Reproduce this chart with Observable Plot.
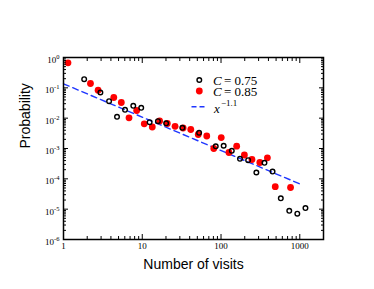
<!DOCTYPE html>
<html>
<head>
<meta charset="utf-8">
<script src="https://cdn.jsdelivr.net/npm/d3@7"></script>
<script src="https://cdn.jsdelivr.net/npm/@observablehq/plot@0.6"></script>
<style>
  html, body { margin: 0; padding: 0; background: #fff; }
</style>
</head>
<body>
<div id="chart"></div>
<script>
// C = 0.75 (open black circles)
const visitsC75 = [1.83, 2.94, 3.79, 4.78, 6.04, 7.69, 9.70, 12.4, 15.8, 20.1, 32.3, 52.7, 85.7, 108, 137, 174, 221, 281, 356, 451, 574, 735, 930, 1180];
const probC75   = [0.193, 0.0702, 0.0362, 0.0111, 0.0189, 0.0256, 0.022, 0.00736, 0.00794, 0.00677, 0.00481, 0.00329, 0.00118, 0.00123, 0.000839, 0.000457, 0.000411, 0.000162, 0.000337, 0.000174, 0.0000228, 0.00000883, 0.00000708, 0.0000109];

// C = 0.85 (filled red circles)
const visitsC85 = [1.14, 2.20, 2.75, 4.35, 5.42, 6.79, 8.49, 10.6, 13.4, 16.6, 20.8, 26.1, 33.0, 41.3, 51.4, 65.9, 80.9, 100.6, 126, 158, 198, 247, 311, 388, 488, 763];
const probC85   = [0.669, 0.139, 0.0835, 0.048, 0.0328, 0.0103, 0.0179, 0.00652, 0.00511, 0.00806, 0.00667, 0.0054, 0.00474, 0.00423, 0.00289, 0.00258, 0.001, 0.0023, 0.000738, 0.00119, 0.00061, 0.000434, 0.000345, 0.000493, 0.000055, 0.0000518];

// power-law guide x^-1.1 (end points)
const fitVisits = [1, 1000];
const fitProb   = [0.136, 0.000068];

// ticks
const xMajorTicks = [1, 10, 100, 1000];
const xMinorTicks = [2,3,4,5,6,7,8,9,20,30,40,50,60,70,80,90,200,300,400,500,600,700,800,900,2000];
const yMajorTicks = [1, 1e-1, 1e-2, 1e-3, 1e-4, 1e-5, 1e-6];
const yMinorTicks = [];
for (const d of [1e-6, 1e-5, 1e-4, 1e-3, 1e-2, 1e-1]) for (let k = 2; k <= 9; k++) yMinorTicks.push(d * k);

const legendLabels = ["0.75", "0.85"];
const fitLabelExp = "\u22121.1";

const c75 = visitsC75.map((v, i) => ({visits: v, prob: probC75[i]}));
const c85 = visitsC85.map((v, i) => ({visits: v, prob: probC85[i]}));
const fit = fitVisits.map((v, i) => ({visits: v, prob: fitProb[i]}));

const serif = "'Liberation Serif', 'Times New Roman', serif";
const sans = "'Liberation Sans', Arial, sans-serif";

const tickAxes = [];
for (const anchor of ["bottom", "top"]) {
  tickAxes.push(Plot.axisX(xMajorTicks, {anchor, tickSize: -5, tickFormat: () => "", label: null, strokeWidth: 1}));
  tickAxes.push(Plot.axisX(xMinorTicks, {anchor, tickSize: -3, tickFormat: () => "", label: null, strokeWidth: 1}));
}
for (const anchor of ["left", "right"]) {
  tickAxes.push(Plot.axisY(yMajorTicks, {anchor, tickSize: -5, tickFormat: () => "", label: null, strokeWidth: 1}));
  tickAxes.push(Plot.axisY(yMinorTicks, {anchor, tickSize: -3, tickFormat: () => "", label: null, strokeWidth: 1}));
}

const chart = Plot.plot({
  width: 374,
  height: 289,
  marginLeft: 63,
  marginRight: 51,
  marginTop: 57,
  marginBottom: 50,
  style: {fontFamily: serif, fontSize: "9px", background: "#fff", color: "#000"},
  x: {type: "log", domain: [1, 2000]},
  y: {type: "log", domain: [1e-6, 1]},
  marks: [
    Plot.line(fit, {x: "visits", y: "prob", stroke: "#1f36ff", strokeWidth: 1.4, strokeDasharray: "6,4"}),
    Plot.dot(c85, {x: "visits", y: "prob", r: 3.4, fill: "#ff0000", stroke: "none"}),
    Plot.dot(c75, {x: "visits", y: "prob", r: 2.3, fill: "none", stroke: "#000", strokeWidth: 1.4}),
    ...tickAxes,
    Plot.axisX(xMajorTicks, {anchor: "bottom", tickSize: 0, tickPadding: 3, tickFormat: d => String(d), label: null}),
    Plot.axisY(yMajorTicks, {anchor: "left", tickSize: 0, tickPadding: 4, dy: 2.5, tickFormat: d => "e" + String(Math.round(Math.log10(d))).replace("\u2212", "-"), label: null}),
    Plot.frame({stroke: "#000", strokeWidth: 1.5}),
    Plot.text(["Number of visits"], {frameAnchor: "bottom", dy: 25, lineAnchor: "middle", fontSize: 14, fontFamily: sans, fill: "#000"}),
    Plot.text(["Probability"], {frameAnchor: "left", dx: -38, rotate: -90, lineAnchor: "middle", fontSize: 14, fontFamily: sans, fill: "#000"})
  ]
});

// superscript exponents on y tick labels (only the labelled axis)
chart.querySelectorAll('g[aria-label="y-axis tick label"] text').forEach(t => {
  const s = t.textContent;
  if (!s || s[0] !== "e") return;
  const exp = s.slice(1);
  t.textContent = "10";
  const ts = document.createElementNS("http://www.w3.org/2000/svg", "tspan");
  ts.setAttribute("dy", "-4");
  ts.setAttribute("font-size", "6.5");
  ts.textContent = exp;
  t.appendChild(ts);
});

// legend
const ns = "http://www.w3.org/2000/svg";
const lg = document.createElementNS(ns, "g");
lg.setAttribute("text-anchor", "start");
function el(name, attrs, parent = lg) {
  const e = document.createElementNS(ns, name);
  for (const k in attrs) e.setAttribute(k, attrs[k]);
  parent.appendChild(e);
  return e;
}
const textStyle = `font-family: ${serif}; font-size: 13px; text-anchor: start;`;
el("circle", {cx: 199.3, cy: 80, r: 2.3, fill: "none", stroke: "#000", "stroke-width": 1.4});
el("circle", {cx: 199.3, cy: 91, r: 3.4, fill: "#ff0000"});
legendLabels.forEach((lab, i) => {
  const c = el("text", {x: 213, y: 84.5 + i * 11, style: textStyle + " font-style: italic;", fill: "#000"});
  c.textContent = "C";
  const r = el("text", {x: 224, y: 84.5 + i * 11, style: textStyle, fill: "#000"});
  r.textContent = "= " + lab;
});
el("line", {x1: 191.5, x2: 205.5, y1: 106.7, y2: 106.7, stroke: "#1f36ff", "stroke-width": 1.4, "stroke-dasharray": "5,3"});
const xi = el("text", {x: 214, y: 113, style: textStyle + " font-style: italic;", fill: "#000"});
xi.textContent = "x";
const xs = el("text", {x: 221, y: 106, style: `font-family: ${serif}; font-size: 9px; text-anchor: start;`, fill: "#000"});
xs.textContent = fitLabelExp;
chart.appendChild(lg);

document.getElementById("chart").appendChild(chart);
</script>
</body>
</html>
